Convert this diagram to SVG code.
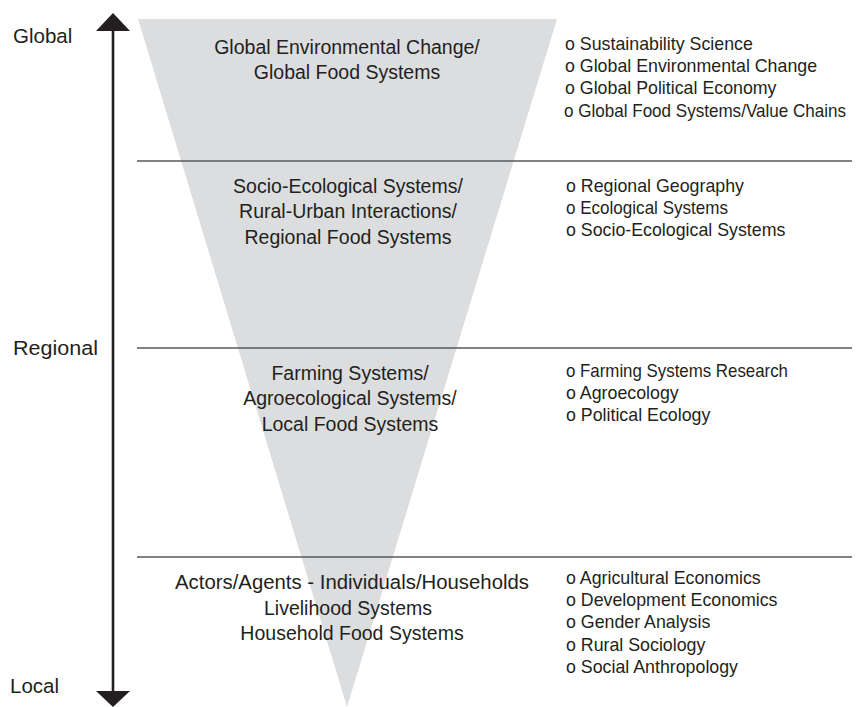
<svg xmlns="http://www.w3.org/2000/svg" width="856" height="707" viewBox="0 0 856 707">
  <style>
    text { font-family: "Liberation Sans", Arial, sans-serif; fill: #231f20; }
    .scale { font-size: 20.5px; }
    .level { font-size: 19.5px; text-anchor: middle; }
    .field { font-size: 17.8px; }
    .divider { stroke: #58595b; stroke-width: 1.3; }
  </style>
  <rect width="856" height="707" fill="#ffffff"/>

  <!-- funnel of scales -->
  <polygon id="funnel" points="138,19 557,19 347,707" fill="#dcdddf"/>

  <!-- scale axis -->
  <g id="axis">
    <line x1="113" y1="30" x2="113" y2="691" stroke="#231f20" stroke-width="2.6"/>
    <polygon points="96,31 130,31 113,13" fill="#231f20"/>
    <polygon points="96,691 130,691 113,707" fill="#231f20"/>
    <text class="scale" x="13" y="43">Global</text>
    <text class="scale" x="13" y="355" textLength="85" lengthAdjust="spacingAndGlyphs">Regional</text>
    <text class="scale" x="10" y="693">Local</text>
  </g>

  <!-- dividers between levels -->
  <g id="connectors">
    <line class="divider" x1="137" y1="161" x2="852" y2="161"/>
    <line class="divider" x1="137" y1="348" x2="852" y2="348"/>
    <line class="divider" x1="137" y1="557" x2="852" y2="557"/>
  </g>

  <g id="level-global">
    <text class="level" x="347" y="54">Global Environmental Change/</text>
    <text class="level" x="347" y="79">Global Food Systems</text>
  </g>
  <g id="fields-global">
    <text class="field" x="565" y="50">o Sustainability Science</text>
    <text class="field" x="565" y="72">o Global Environmental Change</text>
    <text class="field" x="565" y="94">o Global Political Economy</text>
    <text class="field" x="564" y="117" textLength="282" lengthAdjust="spacingAndGlyphs">o Global Food Systems/Value Chains</text>
  </g>

  <g id="level-regional">
    <text class="level" x="348" y="193">Socio-Ecological Systems/</text>
    <text class="level" x="348" y="218">Rural-Urban Interactions/</text>
    <text class="level" x="348" y="244">Regional Food Systems</text>
  </g>
  <g id="fields-regional">
    <text class="field" x="566" y="192">o Regional Geography</text>
    <text class="field" x="566" y="214" textLength="162" lengthAdjust="spacingAndGlyphs">o Ecological Systems</text>
    <text class="field" x="566" y="236">o Socio-Ecological Systems</text>
  </g>

  <g id="level-local">
    <text class="level" x="350" y="380">Farming Systems/</text>
    <text class="level" x="350" y="405">Agroecological Systems/</text>
    <text class="level" x="350" y="431">Local Food Systems</text>
  </g>
  <g id="fields-local">
    <text class="field" x="566" y="377" textLength="222" lengthAdjust="spacingAndGlyphs">o Farming Systems Research</text>
    <text class="field" x="566" y="399">o Agroecology</text>
    <text class="field" x="566" y="421">o Political Ecology</text>
  </g>

  <g id="level-household">
    <text class="level" x="352" y="589" textLength="354" lengthAdjust="spacingAndGlyphs">Actors/Agents - Individuals/Households</text>
    <text class="level" x="348" y="615">Livelihood Systems</text>
    <text class="level" x="352" y="640">Household Food Systems</text>
  </g>
  <g id="fields-household">
    <text class="field" x="566" y="584">o Agricultural Economics</text>
    <text class="field" x="566" y="606">o Development Economics</text>
    <text class="field" x="566" y="628">o Gender Analysis</text>
    <text class="field" x="566" y="651">o Rural Sociology</text>
    <text class="field" x="566" y="673">o Social Anthropology</text>
  </g>
</svg>
